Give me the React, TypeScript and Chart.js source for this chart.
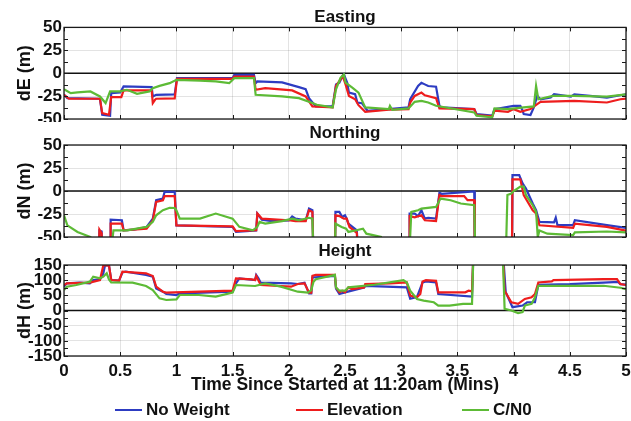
import React, { useEffect, useRef } from 'react';
import { Chart, registerables } from 'chart.js';

Chart.register(...registerables);

type Pt = [number, number];

const FONT = "'Liberation Sans', Arial, Helvetica, sans-serif";
const INK = '#111111';

const seriesNames = ['No Weight', 'Elevation', 'C/N0'];
const seriesColors = ['#2d3cc2', '#ee1d1d', '#5dbb36'];

const timeTitle = 'Time Since Started at 11:20am (Mins)';

// Off-scale readings (receiver wandering far outside the plotted window)
const LOW = -75;
const HIGH = 220;

// ---------- Easting error (m) ----------
const eastNoWeight: Pt[] = [
  [0, -23.6], [0.03, -27.2], [0.32, -27.9], [0.34, -45.3], [0.41, -46.4], [0.42, -21.7], [0.5, -21],
  [0.53, -14.5], [0.78, -15.2], [0.79, -25.4], [0.82, -23.6], [0.985, -23.2], [1.005, -5.4], [1.5, -5.4],
  [1.515, -1.8], [1.69, -1.8], [1.705, -10.9], [1.72, -9], [1.94, -10.1], [2.09, -15.2], [2.15, -17.4],
  [2.18, -27.2], [2.24, -36.2], [2.39, -36.3], [2.42, -12.2], [2.45, -10.4], [2.48, -2.5], [2.49, -1.4],
  [2.52, -10.4], [2.535, -21.2], [2.59, -23], [2.61, -32], [2.65, -32.7], [2.7, -41], [2.89, -39.2],
  [3.065, -37.4], [3.08, -28.4], [3.15, -14], [3.18, -10.4], [3.21, -12.2], [3.24, -14], [3.31, -14.7],
  [3.34, -35.6], [3.36, -37.4], [3.65, -39.2], [3.67, -44.6], [3.81, -46.4], [3.83, -39.2], [4.0, -35.6],
  [4.06, -35.6], [4.08, -41], [4.09, -44.6], [4.15, -45.7], [4.18, -37.4], [4.21, -24.8], [4.24, -28.4],
  [4.33, -26.6], [4.36, -23], [4.51, -25.5], [4.54, -23], [4.68, -24.8], [4.83, -26.6], [4.95, -24.1], [5, -23],
];
const eastElevation: Pt[] = [
  [0, -23.6], [0.044, -27.9], [0.32, -27.9], [0.34, -43.5], [0.4, -45.3], [0.42, -26.1], [0.51, -26.1],
  [0.53, -18.8], [0.78, -18.8], [0.79, -32.6], [0.81, -29], [0.82, -27.9], [0.985, -27.5], [1.005, -6.2],
  [1.5, -6.2], [1.515, -3.6], [1.69, -3.6], [1.705, -18.1], [1.79, -16.3], [2.03, -18.8], [2.15, -25.4],
  [2.21, -36.2], [2.39, -37.4], [2.42, -14], [2.46, -6.8], [2.48, -3.2], [2.505, -12.2], [2.535, -24.8],
  [2.59, -28.4], [2.62, -34.9], [2.68, -42.1], [2.89, -39.9], [3.065, -39.2], [3.08, -32], [3.12, -24.8],
  [3.18, -21.2], [3.21, -24.1], [3.31, -27.3], [3.34, -38.5], [3.65, -39.2], [3.67, -45.7], [3.81, -47.1],
  [3.83, -41], [3.95, -42.1], [4.0, -39.2], [4.06, -42.1], [4.15, -39.2], [4.21, -33.8], [4.24, -31.3],
  [4.54, -30.2], [4.83, -32], [4.95, -28.4], [5, -27.7],
];
const eastCN0: Pt[] = [
  [0, -17.4], [0.06, -21.7], [0.12, -21], [0.235, -19.9], [0.32, -25.4], [0.37, -32.6], [0.41, -19.9],
  [0.5, -19.9], [0.56, -18.1], [0.65, -22.5], [0.76, -19.9], [0.79, -16.3], [0.85, -13.8], [0.94, -10.9],
  [1.0, -7.2], [1.21, -8], [1.35, -9], [1.47, -10.9], [1.515, -5.4], [1.69, -5.4], [1.705, -23.6],
  [1.94, -25.4], [2.09, -27.2], [2.21, -32.6], [2.25, -34.4], [2.39, -37.4], [2.42, -17.6], [2.46, -5],
  [2.49, -1.4], [2.505, -10.4], [2.565, -15.8], [2.62, -21.2], [2.68, -37.4], [2.89, -39.2], [2.9, -35.6],
  [2.92, -39.9], [3.065, -38.5], [3.12, -31.3], [3.18, -30.2], [3.24, -32], [3.31, -35.6], [3.65, -42.8],
  [3.67, -46.4], [3.81, -48.2], [3.83, -38.5], [3.95, -39.2], [4.09, -37.4], [4.18, -36.3], [4.2, -14],
  [4.22, -28.4], [4.35, -24.8], [4.54, -24.8], [4.83, -25.5], [5, -23],
];

// ---------- Northing error (m) ----------
const northNoWeight: Pt[] = [
  [0, LOW], [0.31, LOW], [0.315, -43], [0.335, -44], [0.34, LOW], [0.41, LOW], [0.415, -31.1], [0.515, -31.8],
  [0.53, -42.7], [0.62, -42], [0.735, -39.1], [0.79, -30], [0.82, -10], [0.88, -8.2], [0.895, -0.9],
  [0.985, -0.9], [1.0, -37.3], [1.5, -39.1], [1.53, -44.5], [1.71, -43], [1.72, -24.5], [1.76, -31.1],
  [1.85, -32.7], [2.0, -32], [2.03, -27.6], [2.06, -30], [2.15, -32], [2.18, -19.1], [2.21, -20.9],
  [2.22, LOW], [2.41, LOW], [2.415, -22.7], [2.45, -22.7], [2.475, -28.2], [2.5, -26.4], [2.515, -30],
  [2.53, -35.5], [2.605, -42.7], [2.62, LOW], [3.07, LOW], [3.075, -24.5], [3.12, -24.5], [3.15, -27.3],
  [3.18, -20.9], [3.21, -30], [3.24, -29.1], [3.31, -30], [3.34, -2], [3.36, -3], [3.65, -0.5], [3.655, LOW],
  [3.985, LOW], [3.99, 17.3], [4.05, 17.3], [4.08, 8.2], [4.11, 2.7], [4.17, -13.6], [4.2, -20.9],
  [4.23, -33.6], [4.36, -34], [4.375, -29], [4.39, -37], [4.53, -37], [4.545, -31.8], [4.83, -37], [5, -40],
];
const northElevation: Pt[] = [
  [0, LOW], [0.31, LOW], [0.315, -42], [0.335, -46], [0.34, LOW], [0.41, LOW], [0.415, -35.5], [0.515, -35.5],
  [0.53, -42.7], [0.735, -41], [0.79, -32], [0.82, -11.8], [0.88, -10], [0.895, -5.5], [0.985, -5.5],
  [1.0, -37.3], [1.5, -38.4], [1.53, -43.6], [1.71, -42.7], [1.72, -24.5], [1.76, -30], [2.0, -31.8],
  [2.06, -32.7], [2.15, -32.7], [2.18, -21], [2.21, -22.7], [2.22, LOW], [2.41, LOW], [2.415, -26.4],
  [2.45, -27.3], [2.49, -30], [2.515, -30], [2.54, -39.1], [2.605, -45.5], [2.62, LOW], [3.07, LOW],
  [3.075, -27.3], [3.12, -28.7], [3.18, -26.4], [3.21, -31.8], [3.31, -32.7], [3.34, -4.5], [3.36, -5.5],
  [3.56, -5.5], [3.59, -10], [3.65, -10], [3.655, LOW], [3.985, LOW], [3.99, 12.7], [4.06, 12.7],
  [4.09, -4.5], [4.17, -21], [4.2, -24.5], [4.23, -37.3], [4.53, -40], [4.545, -35.5], [4.83, -39], [5, -43],
];
const northCN0: Pt[] = [
  [0, -26.4], [0.03, -37.3], [0.12, -44.5], [0.235, -50], [0.25, LOW], [0.41, LOW], [0.44, -42.7],
  [0.56, -42.7], [0.735, -39], [0.79, -33.6], [0.82, -26.4], [0.88, -20.9], [0.94, -18.2], [0.985, -18.5],
  [1.0, -21], [1.03, -30], [1.21, -30], [1.35, -24.5], [1.5, -30], [1.56, -39], [1.68, -42.7], [1.72, -39],
  [1.74, -33.6], [1.79, -35.5], [1.94, -32.7], [2.03, -30], [2.09, -31.8], [2.18, -29.1], [2.21, -30],
  [2.22, LOW], [2.41, LOW], [2.415, -35.5], [2.47, -39.1], [2.51, -41], [2.53, -44.5], [2.6, -42.7],
  [2.66, -41], [2.69, -46.4], [2.82, -50], [2.83, LOW], [3.07, LOW], [3.09, -22.7], [3.15, -20.9],
  [3.18, -19.1], [3.31, -17.3], [3.35, -8.2], [3.44, -10], [3.53, -13.6], [3.65, -15.5], [3.66, LOW],
  [3.93, LOW], [3.945, -4.3], [3.98, -2.7], [4.0, 0], [4.06, 4.7], [4.09, 4.7], [4.11, -4.5], [4.17, -15.5],
  [4.2, -22.7], [4.215, -50], [4.23, -43], [4.3, -46.4], [4.53, -48], [4.545, -45], [4.83, -44], [5, -45],
];

// ---------- Height error (m) ----------
const heightNoWeight: Pt[] = [
  [0, 78.6], [0.025, 89.6], [0.14, 91.8], [0.23, 89.6], [0.26, 100.5], [0.32, 102.7], [0.35, 122.5],
  [0.365, 149], [0.4, 149], [0.42, 100.5], [0.49, 98.4], [0.52, 125.8], [0.55, 128], [0.73, 117],
  [0.79, 111.5], [0.82, 73], [0.88, 62], [0.91, 54.4], [1.0, 51.1], [1.03, 56.6], [1.5, 62], [1.53, 89.6],
  [1.56, 106], [1.7, 100.5], [1.71, 117], [1.73, 106], [1.75, 91.8], [2.02, 89.6], [2.08, 87.4],
  [2.14, 91.8], [2.18, 56], [2.2, 56], [2.21, 109], [2.41, 114.1], [2.42, 71.7], [2.45, 54.3], [2.5, 59.8],
  [2.67, 76.1], [2.68, 81.5], [3.05, 76.1], [3.08, 38.9], [3.14, 44.3], [3.19, 92.4], [3.22, 95.6],
  [3.31, 92.4], [3.33, 54.3], [3.63, 45.6], [3.645, HIGH], [3.9, HIGH], [3.93, 60], [3.99, 10.9],
  [4.08, 16.3], [4.12, 27.2], [4.19, 27.2], [4.22, 85], [4.5, 87], [4.8, 92], [4.93, 94], [4.95, 87], [5, 85],
];
const heightElevation: Pt[] = [
  [0, 84], [0.025, 89.6], [0.23, 91.8], [0.32, 100.5], [0.35, 149], [0.4, 149], [0.42, 100.5], [0.49, 98.4],
  [0.52, 128], [0.73, 122.5], [0.79, 113.7], [0.82, 78.6], [0.88, 62], [0.91, 58.8], [1.5, 65.4],
  [1.53, 106], [1.67, 102.7], [1.7, 100.5], [1.71, 113.7], [1.75, 84], [2.02, 78.6], [2.08, 87.4],
  [2.14, 89.6], [2.18, 58.8], [2.2, 58.8], [2.21, 114.1], [2.24, 117.4], [2.41, 117.4], [2.42, 76.1],
  [2.45, 59.8], [2.475, 65.2], [2.5, 59.8], [2.53, 76.1], [2.56, 70.7], [2.67, 76.1], [2.68, 87],
  [2.9, 89.1], [3.05, 92.4], [3.08, 48.9], [3.14, 43.5], [3.17, 54.3], [3.19, 95.7], [3.22, 100],
  [3.31, 97.8], [3.33, 59.8], [3.57, 59.8], [3.6, 65.2], [3.63, 63], [3.645, HIGH], [3.9, HIGH],
  [3.92, 65.2], [3.98, 27.2], [4.04, 21.7], [4.1, 38], [4.16, 43.5], [4.19, 54.3], [4.22, 92.4],
  [4.34, 95.7], [4.355, 100], [4.8, 103.3], [4.92, 103.3], [4.95, 87], [5, 84],
];
const heightCN0: Pt[] = [
  [0, 67.6], [0.025, 78.6], [0.11, 84], [0.23, 95], [0.26, 111.5], [0.32, 106], [0.35, 111.5],
  [0.38, 122.5], [0.4, 102.7], [0.42, 92.9], [0.61, 91.8], [0.73, 80.8], [0.79, 67.6], [0.85, 40.1],
  [0.91, 34.6], [1.0, 36.8], [1.03, 51.1], [1.2, 51.1], [1.35, 45.6], [1.5, 58.8], [1.53, 84], [1.7, 80.8],
  [1.79, 89.6], [1.93, 78.6], [2.08, 62], [2.17, 58.8], [2.2, 67.6], [2.22, 95], [2.24, 103.3],
  [2.41, 117.4], [2.42, 76.1], [2.45, 65.2], [2.5, 65.2], [2.53, 76.1], [2.76, 84.8], [3.02, 100],
  [3.05, 92.4], [3.08, 65.2], [3.14, 38], [3.2, 32.6], [3.29, 27.2], [3.33, 16.3], [3.43, 16.3],
  [3.55, 21.7], [3.63, 21.7], [3.645, HIGH], [3.9, HIGH], [3.92, 5.4], [3.98, 0], [4.04, -8.7],
  [4.08, -5.4], [4.1, 16.3], [4.16, 21.7], [4.19, 43.5], [4.22, 81.5], [4.8, 81.5], [4.95, 75], [5, 70.7],
];

interface PanelSpec {
  title: string;
  yLabel: string;
  yMin: number;
  yMax: number;
  yStep: number;
  series: Pt[][];
  top: number;
  height: number;
  titlePad: { top: number; bottom: number };
  bottomAxis: boolean;
}

const panels: PanelSpec[] = [
  {
    title: 'Easting', yLabel: 'dE (m)', yMin: -50, yMax: 50, yStep: 25,
    series: [eastNoWeight, eastElevation, eastCN0],
    top: 0, height: 122, titlePad: { top: 7, bottom: 0 }, bottomAxis: false,
  },
  {
    title: 'Northing', yLabel: 'dN (m)', yMin: -50, yMax: 50, yStep: 25,
    series: [northNoWeight, northElevation, northCN0],
    top: 122, height: 118, titlePad: { top: 1.3, bottom: 1.3 }, bottomAxis: false,
  },
  {
    title: 'Height', yLabel: 'dH (m)', yMin: -150, yMax: 150, yStep: 50,
    series: [heightNoWeight, heightElevation, heightCN0],
    top: 240, height: 181, titlePad: { top: 0.8, bottom: 3.8 }, bottomAxis: true,
  },
];

// Box outline, inward tick marks and the black zero line of each panel
function panelFramePlugin(minorStep: number) {
  return {
    id: 'panelFrame',
    beforeDatasetsDraw(chart: any) {
      const { ctx, chartArea: a } = chart;
      const yz = chart.scales.y.getPixelForValue(0);
      ctx.save();
      ctx.strokeStyle = INK;
      ctx.lineWidth = 1.6;
      ctx.beginPath();
      ctx.moveTo(a.left, yz);
      ctx.lineTo(a.right, yz);
      ctx.stroke();
      ctx.restore();
    },
    afterDraw(chart: any) {
      const { ctx, chartArea: a } = chart;
      const xs = chart.scales.x;
      const ys = chart.scales.y;
      const len = 4;
      ctx.save();
      ctx.strokeStyle = '#1a1a1a';
      ctx.lineWidth = 1;
      ctx.beginPath();
      for (const t of xs.ticks) {
        const px = Math.round(xs.getPixelForValue(t.value)) + 0.5;
        ctx.moveTo(px, a.top);
        ctx.lineTo(px, a.top + len);
        ctx.moveTo(px, a.bottom);
        ctx.lineTo(px, a.bottom - len);
      }
      for (let v = ys.min; v <= ys.max + 1e-9; v += minorStep) {
        const py = Math.round(ys.getPixelForValue(v)) + 0.5;
        ctx.moveTo(a.left, py);
        ctx.lineTo(a.left + len, py);
        ctx.moveTo(a.right, py);
        ctx.lineTo(a.right - len, py);
      }
      ctx.stroke();
      ctx.lineWidth = 1.3;
      ctx.strokeRect(a.left, a.top, a.right - a.left, a.bottom - a.top);
      ctx.restore();
    },
  };
}

function Panel({ spec }: { spec: PanelSpec }) {
  const ref = useRef<HTMLCanvasElement>(null);

  useEffect(() => {
    const canvas = ref.current;
    if (!canvas) return;
    const gridColor = 'rgba(0,0,0,0.11)';
    const chart = new Chart(canvas, {
      type: 'line',
      data: {
        datasets: spec.series.map((pts, i) => ({
          label: seriesNames[i],
          data: pts.map(([x, y]) => ({ x, y })),
          borderColor: seriesColors[i],
          backgroundColor: seriesColors[i],
          borderWidth: 2.2,
          pointRadius: 0,
          tension: 0,
          fill: false,
          clip: 0,
          order: 3 - i,
        })),
      },
      options: {
        animation: false,
        responsive: false,
        maintainAspectRatio: false,
        devicePixelRatio: 1,
        events: [],
        layout: { padding: { left: 0, right: 5, top: 0, bottom: spec.bottomAxis ? 25.5 : 0 } },
        plugins: {
          legend: { display: false },
          tooltip: { enabled: false },
          title: {
            display: true,
            text: spec.title,
            fullSize: false,
            color: INK,
            font: { family: FONT, size: 17, weight: 'bold' },
            padding: spec.titlePad,
          },
        },
        scales: {
          x: {
            type: 'linear',
            min: 0,
            max: 5,
            position: 'bottom',
            border: { display: false },
            grid: { color: gridColor, drawTicks: false, lineWidth: 1 },
            ticks: {
              display: spec.bottomAxis,
              stepSize: 0.5,
              autoSkip: false,
              maxRotation: 0,
              padding: 5,
              color: INK,
              font: { family: FONT, size: 17, weight: 'bold' },
              callback: (v: any) => String(v),
            },
            title: {
              display: spec.bottomAxis,
              text: timeTitle,
              color: INK,
              font: { family: FONT, size: 17.5, weight: 'bold' },
              padding: 0,
            },
            afterFit: (s: any) => {
              s.height = spec.bottomAxis ? 39.5 : 3;
              s.paddingLeft = 0;
              s.paddingRight = 0;
            },
          },
          y: {
            type: 'linear',
            min: spec.yMin,
            max: spec.yMax,
            border: { display: false },
            grid: { color: gridColor, drawTicks: false, lineWidth: 1 },
            ticks: {
              stepSize: spec.yStep,
              autoSkip: false,
              padding: 2,
              color: INK,
              font: { family: FONT, size: 17, weight: 'bold' },
              callback: (v: any) => String(v),
            },
            title: {
              display: true,
              text: spec.yLabel,
              color: INK,
              font: { family: FONT, size: 18, weight: 'bold' },
              padding: { top: 14, bottom: 0 },
            },
            afterFit: (s: any) => {
              s.width = 64;
              s.paddingTop = 0;
              s.paddingBottom = 0;
            },
          },
        },
      },
      plugins: [panelFramePlugin(spec.yStep / 2)],
    } as any);
    return () => chart.destroy();
  }, [spec]);

  return (
    <canvas
      ref={ref}
      width={631}
      height={spec.height}
      style={{ position: 'absolute', left: 0, top: spec.top, width: 631, height: spec.height }}
    />
  );
}

const legendLeft = [115, 296, 462];

export default function App() {
  return (
    <div
      style={{
        position: 'absolute',
        left: 0,
        top: 0,
        width: 631,
        height: 421,
        background: '#ffffff',
        overflow: 'hidden',
      }}
    >
      {panels.map((p) => (
        <Panel key={p.title} spec={p} />
      ))}
      {seriesNames.map((name, i) => (
        <div
          key={name}
          style={{
            position: 'absolute',
            left: legendLeft[i],
            top: 400,
            height: 20,
            lineHeight: '20px',
            display: 'flex',
            alignItems: 'center',
            fontFamily: FONT,
            fontWeight: 'bold',
            fontSize: 17,
            color: INK,
            whiteSpace: 'nowrap',
          }}
        >
          <span style={{ display: 'inline-block', width: 27, height: 2, background: seriesColors[i], marginRight: 4 }} />
          <span>{name}</span>
        </div>
      ))}
    </div>
  );
}
